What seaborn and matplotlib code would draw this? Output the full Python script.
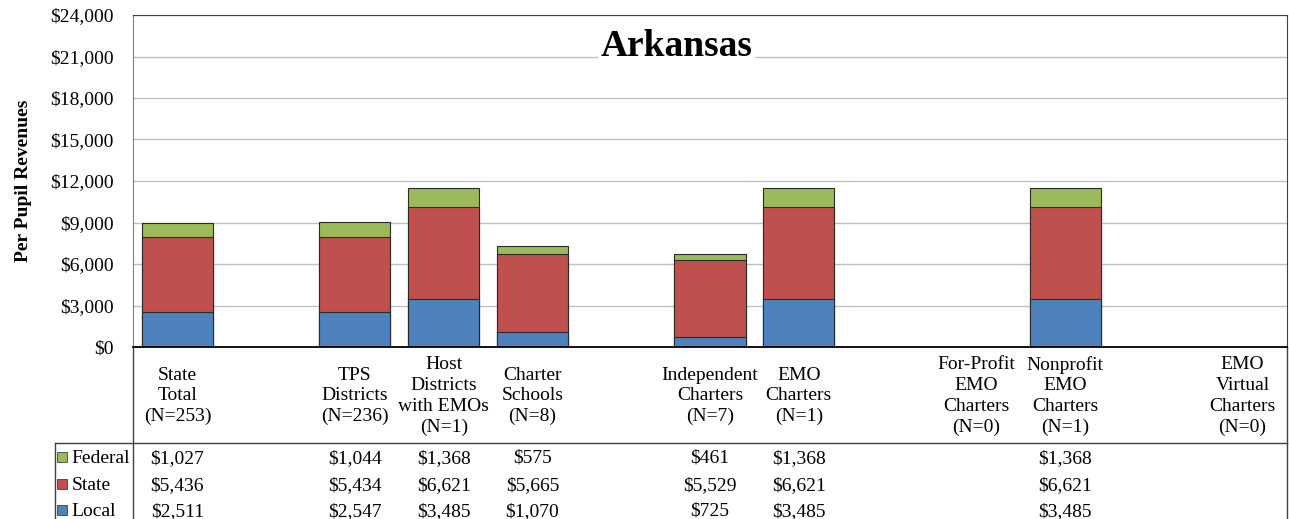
import numpy as np
import pandas as pd
import matplotlib
matplotlib.use("Agg")
import matplotlib.pyplot as plt
import matplotlib.transforms as mtransforms
from matplotlib.patches import Rectangle
import seaborn as sns

# Daten (leere Strings = Lücken zwischen den Gruppen)
categories = ["State\nTotal\n(N=253)", "", "TPS\nDistricts\n(N=236)",
              "Host\nDistricts\nwith EMOs\n(N=1)", "Charter\nSchools\n(N=8)", " ",
              "Independent\nCharters\n(N=7)", "EMO\nCharters\n(N=1)", "  ",
              "For-Profit\nEMO\nCharters\n(N=0)", "Nonprofit\nEMO\nCharters\n(N=1)", "   ",
              "EMO\nVirtual\nCharters\n(N=0)"]
federal = [1027, None, 1044, 1368, 575, None, 461, 1368, None, None, 1368, None, None]
state = [5436, None, 5434, 6621, 5665, None, 5529, 6621, None, None, 6621, None, None]
local = [2511, None, 2547, 3485, 1070, None, 725, 3485, None, None, 3485, None, None]

series_names = ["Federal", "State", "Local"]
colors = {"Federal": "#9BBB59", "State": "#C0504D", "Local": "#4F81BD"}

plt.rcParams['font.family'] = 'Liberation Serif'

rows = []
for c, f, s, l in zip(categories, federal, state, local):
    if f is None:
        continue
    rows.append({"cat": c, "Local": l, "State": l + s, "Federal": l + s + f})
df = pd.DataFrame(rows)

fig = plt.figure(figsize=(12.89, 5.19), dpi=100)
ax = fig.add_axes([133/1289, 1 - 347/519, 1154/1289, 332/519])

for name in ["Federal", "State", "Local"]:
    sns.barplot(data=df, x="cat", y=name, order=categories, color=colors[name],
                edgecolor="#2a2a2a", linewidth=0.8, width=0.8, saturation=1, ax=ax, zorder=3)

ax.set_xlim(-0.5, len(categories) - 0.5)
ax.set_ylim(0, 24000)
ax.set_yticks(np.arange(0, 24001, 3000))
ax.set_yticklabels([f"${v:,}" for v in range(0, 24001, 3000)], fontsize=14)
ax.tick_params(axis="y", length=0, pad=14)
ax.set_xticks([])
ax.set_xlabel("")
ax.set_ylabel("Per Pupil Revenues", fontsize=14, fontweight="bold", labelpad=13)
ax.grid(axis="y", color="#c0c0c0", linewidth=1, zorder=0)
ax.set_axisbelow(True)
for side in ["top", "right"]:
    ax.spines[side].set_color("#404040")
ax.spines["left"].set_color("#808080")
ax.spines["bottom"].set_color("black")
ax.spines["bottom"].set_linewidth(1.3)
ax.spines["bottom"].set_zorder(4)

ax.text(0.471, 0.904, "Arkansas", transform=ax.transAxes, ha="center", va="center",
        fontsize=27, fontweight="bold", zorder=5,
        bbox=dict(facecolor="white", edgecolor="none", pad=2))

# Kategorien unter der Achse
trans = mtransforms.blended_transform_factory(ax.transData, ax.transAxes)
for i, c in enumerate(categories):
    if c.strip():
        ax.text(i, -0.1476, c, transform=trans, ha="center", va="center",
                multialignment="center", fontsize=14, linespacing=1.28)

# Datentabelle (Grundlinie je Zeile, Kästchen mittig)
row_base = {"Federal": -0.349, "State": -0.430, "Local": -0.508}
row_mid = {"Federal": -0.331, "State": -0.412, "Local": -0.490}
row_vals = {"Federal": federal, "State": state, "Local": local}
for name in series_names:
    yb = row_base[name]
    for i, v in enumerate(row_vals[name]):
        if v is not None:
            ax.text(i, yb, f"${v:,}", transform=trans, ha="center",
                    va="baseline", fontsize=14)
    sq_w, sq_h = 10 / 1154, 10 / 332
    ym = row_mid[name]
    ax.add_patch(Rectangle((-0.0615 - sq_w / 2, ym - sq_h / 2), sq_w, sq_h,
                           transform=ax.transAxes, facecolor=colors[name],
                           edgecolor="#404040", linewidth=0.6, clip_on=False))
    ax.text(-0.0535, yb, name, transform=ax.transAxes, ha="left",
            va="baseline", fontsize=14)

line_kw = dict(transform=ax.transAxes, clip_on=False, color="#404040", linewidth=1)
ax.plot([-0.0676, 1], [-0.289, -0.289], **line_kw)
ax.plot([0, 0], [0, -0.6], **line_kw)
ax.plot([1, 1], [0, -0.6], **line_kw)
ax.plot([-0.0676, -0.0676], [-0.289, -0.6], **line_kw)

fig.savefig("out.png", dpi=100)
